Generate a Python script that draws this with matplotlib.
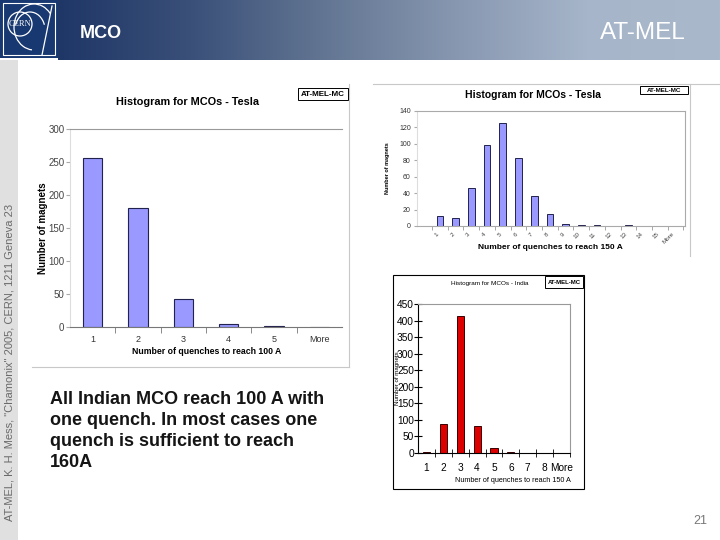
import numpy as np
import matplotlib
matplotlib.use("Agg")
import matplotlib.pyplot as plt
from matplotlib.colors import LinearSegmentedColormap
from matplotlib.patches import Rectangle, Circle, Arc
from matplotlib.ticker import FixedLocator

plt.rcParams['font.family'] = ['Liberation Sans', 'DejaVu Sans']

# ---------------- data ----------------
tesla100_labels = ['1', '2', '3', '4', '5', 'More']
tesla100_counts = [256, 181, 43, 5, 1, 0]

tesla150_labels = ['1', '2', '3', '4', '5', '6', '7', '8', '9', '10',
                   '11', '12', '13', '14', '15', 'More']
tesla150_counts = [12, 10, 46, 99, 125, 83, 37, 15, 2, 1, 1, 0, 1, 0, 0, 0]

india_labels = ['1', '2', '3', '4', '5', '6', '7', '8', 'More']
india_counts = [2, 88, 413, 83, 16, 2, 0, 0, 0]

W, H = 720, 540
fig = plt.figure(figsize=(7.2, 5.4), dpi=100)


def px_axes(x0, y0, x1, y1, **kw):
    return fig.add_axes([x0 / W, 1 - y1 / H, (x1 - x0) / W, (y1 - y0) / H], **kw)


def ftext(x, y, s, **kw):
    return fig.text(x / W, 1 - y / H, s, **kw)


# ---------------- background ----------------
bg = px_axes(0, 0, 720, 540)
bg.set_xlim(0, 720)
bg.set_ylim(540, 0)
bg.axis('off')
bg.add_patch(Rectangle((0, 60), 18, 480, fc='#e0e0e0', ec='none'))
# chart frames
bg.plot([349, 349], [84, 367], color='#c8c8c8', lw=0.8)
bg.plot([32, 349], [367, 367], color='#c8c8c8', lw=0.8)
bg.plot([373, 720], [84, 84], color='#c8c8c8', lw=0.8)
bg.plot([690, 690], [84, 256], color='#c8c8c8', lw=0.8)
bg.add_patch(Rectangle((393, 275), 191, 214, fill=False, ec='black', lw=0.8))

# ---------------- header ----------------
hdr = px_axes(0, 0, 720, 60)
hdr.set_xlim(0, 720)
hdr.set_ylim(60, 0)
hdr.axis('off')
cmap = LinearSegmentedColormap.from_list(
    'hdr', ['#1f3767', '#3a5079', '#627592', '#8797b0', '#a6b5c9', '#aab8cb'])
hdr.imshow(np.linspace(0, 1, 256)[None, :], aspect='auto', cmap=cmap,
           extent=[58, 720, 60, 0])
hdr.add_patch(Rectangle((0, 0), 58, 58, fc='#173870', ec='none'))
hdr.add_patch(Rectangle((3, 3), 52, 52, fill=False, ec='white', lw=0.8))
hdr.add_patch(Circle((20, 24), 12, fill=False, ec='white', lw=0.9))
hdr.add_patch(Arc((34, 27), 40, 46, theta1=95, theta2=320, ec='white', lw=0.9))
hdr.add_patch(Arc((30, 30), 30, 36, theta1=200, theta2=340, ec='white', lw=0.9))
hdr.plot([42, 52], [55, 6], color='white', lw=0.9)
hdr.text(20, 24, 'CERN', color='white', fontsize=6, ha='center', va='center',
         family=['Liberation Serif', 'DejaVu Serif'])
hdr.set_xlim(0, 720)
hdr.set_ylim(60, 0)

ftext(80, 33, 'MCO', color='white', fontsize=13, fontweight='bold',
      ha='left', va='center')
ftext(643, 33, 'AT-MEL', color='white', fontsize=17.5, ha='center', va='center')

# side text & page number
ftext(10, 362, 'AT-MEL, K. H. Mess, "Chamonix" 2005, CERN, 1211 Geneva 23',
      color='#6a6a6a', fontsize=8, rotation=90, ha='center', va='center')
ftext(700, 521, '21', color='#777777', fontsize=9, ha='center', va='center')

# body text
ftext(50, 431, 'All Indian MCO reach 100 A with\none quench. In most cases one\n'
      'quench is sufficient to reach\n160A', color='#151515', fontsize=13,
      fontweight='bold', ha='left', va='center', linespacing=1.3)


def tag(x0, y0, x1, y1, fs):
    bg.add_patch(Rectangle((x0, y0), x1 - x0, y1 - y0, fc='white', ec='black', lw=0.7,
                           zorder=5))
    bg.text((x0 + x1) / 2, (y0 + y1) / 2, 'AT-MEL-MC', fontsize=fs, fontweight='bold',
            ha='center', va='center', zorder=6)


# ---------------- chart 1: Tesla 100 A ----------------
ax1 = px_axes(70, 129, 342, 327)
x1 = np.arange(1, len(tesla100_counts) + 1)
ax1.bar(x1, tesla100_counts, width=0.42, color='#9999ff', edgecolor='#22224e', lw=0.8)
ax1.set_xlim(0.5, len(x1) + 0.5)
ax1.set_ylim(0, 300)
ax1.set_yticks(np.arange(0, 301, 50))
ax1.set_xticks(x1)
ax1.set_xticklabels(tesla100_labels)
ax1.xaxis.set_minor_locator(FixedLocator(np.arange(1.5, len(x1), 1.0)))
ax1.tick_params(axis='x', which='major', length=0, pad=6, labelsize=6.5, labelcolor='#333333')
ax1.tick_params(axis='x', which='minor', length=4, color='#777777', direction='out')
ax1.tick_params(axis='y', length=3, color='#aaaaaa', pad=1, labelsize=7, labelcolor='#444444')
ax1.spines['right'].set_visible(False)
ax1.spines['top'].set_color('#999999')
ax1.spines['left'].set_color('#dddddd')
ax1.spines['bottom'].set_color('#777777')
for s in ax1.spines.values():
    s.set_linewidth(0.8)
ftext(188, 102, 'Histogram for MCOs - Tesla', fontsize=7.8, fontweight='bold',
      ha='center', va='center')
ftext(207, 352, 'Number of quenches to reach 100 A', fontsize=6.3, fontweight='bold',
      ha='center', va='center')
ftext(43, 228, 'Number of magnets', fontsize=7, fontweight='bold', rotation=90,
      ha='center', va='center')
tag(298, 88, 348, 100, 5.8)

# ---------------- chart 2: Tesla 150 A ----------------
ax2 = px_axes(417, 111, 685, 226)
x2 = np.arange(1, len(tesla150_counts) + 1)
ax2.bar(x2, tesla150_counts, width=0.43, color='#9999ff', edgecolor='#22224e', lw=0.7)
ax2.set_xlim(-0.46, 16.6)
ax2.set_ylim(0, 140)
ax2.set_yticks(np.arange(0, 141, 20))
ax2.set_xticks(x2)
ax2.set_xticklabels(tesla150_labels, rotation=45, ha='right', va='top')
ax2.xaxis.set_minor_locator(FixedLocator(np.arange(0.5, 16.6, 1.0)))
ax2.tick_params(axis='x', which='major', length=0, pad=4, labelsize=4.5, labelcolor='#444444')
ax2.tick_params(axis='x', which='minor', length=3, color='#999999')
ax2.tick_params(axis='y', length=2.5, color='#aaaaaa', pad=2, labelsize=5, labelcolor='#333333')
ax2.spines['top'].set_color('#aaaaaa')
ax2.spines['right'].set_color('#aaaaaa')
ax2.spines['left'].set_color('#dddddd')
ax2.spines['bottom'].set_color('#aaaaaa')
for s in ax2.spines.values():
    s.set_linewidth(0.8)
ftext(533, 95, 'Histogram for MCOs - Tesla', fontsize=7.5, fontweight='bold',
      ha='center', va='center')
ftext(550, 247, 'Number of quenches to reach 150 A', fontsize=6, fontweight='bold',
      ha='center', va='center')
ftext(388, 168, 'Number of magnets', fontsize=4, fontweight='bold', rotation=90,
      ha='center', va='center')
tag(640, 86, 688, 94, 4.5)

# ---------------- chart 3: India ----------------
ax3 = px_axes(418, 304, 570, 453)
x3 = np.arange(1, len(india_counts) + 1)
ax3.bar(x3, india_counts, width=0.42, color='#dd0000', edgecolor='#3a0000', lw=0.7)
ax3.set_xlim(0.5, len(x3) + 0.5)
ax3.set_ylim(0, 450)
ax3.set_yticks(np.arange(0, 451, 50))
ax3.set_xticks(x3)
ax3.set_xticklabels(india_labels)
ax3.xaxis.set_minor_locator(FixedLocator(np.arange(1.5, len(x3) + 0.6, 1.0)))
ax3.tick_params(axis='x', which='major', length=0, pad=7, labelsize=7.3)
ax3.tick_params(axis='x', which='minor', length=6, direction='inout', color='black')
ax3.tick_params(axis='y', length=6, direction='inout', pad=0, labelsize=7.3)
ax3.spines['top'].set_color('#999999')
ax3.spines['right'].set_color('#999999')
ax3.spines['left'].set_color('black')
ax3.spines['bottom'].set_color('black')
for s in ax3.spines.values():
    s.set_linewidth(0.8)
ftext(490, 283, 'Histogram for MCOs - India', fontsize=4.6, ha='center', va='center')
ftext(513, 481, 'Number of quenches to reach 150 A', fontsize=5.2, ha='center', va='center')
ftext(397, 378, 'Number of magnets', fontsize=4.4, rotation=90, ha='center', va='center')
tag(545, 276, 583, 288, 4.3)

fig.savefig('out.png', dpi=100)
